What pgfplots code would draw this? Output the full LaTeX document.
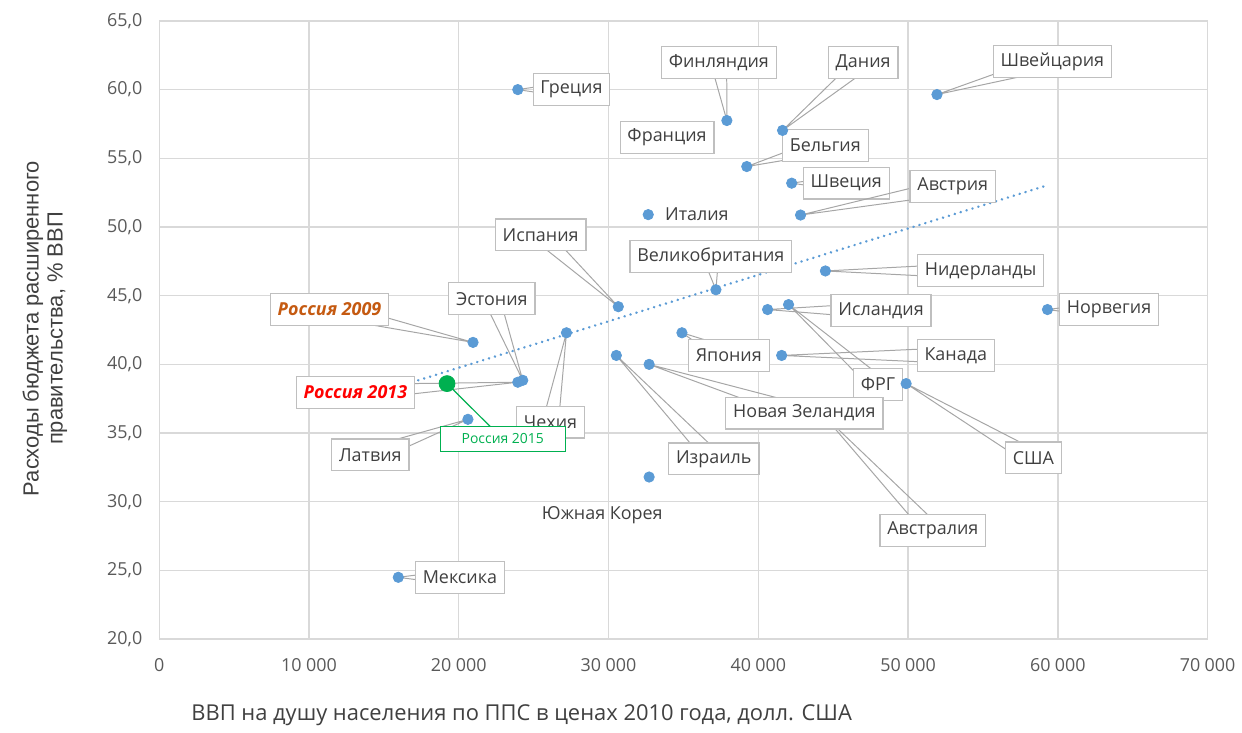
\documentclass[border=0pt]{standalone}
\usepackage{pgfplots}
\pgfplotsset{compat=1.18}
\usetikzlibrary{calc}
\usepackage{fontspec}
\setmainfont{Open Sans}
\newfontfamily\ylabfont{Liberation Sans}
\definecolor{ptc}{HTML}{5B9BD5}
\definecolor{gridc}{HTML}{D9D9D9}
\definecolor{boxc}{HTML}{BFBFBF}
\definecolor{txtc}{HTML}{404040}
\definecolor{tickc}{HTML}{595959}
\definecolor{ldc}{HTML}{A6A6A6}
\definecolor{rus09}{HTML}{C55A11}
\definecolor{rus13}{HTML}{FF0000}
\definecolor{rus15}{HTML}{00B050}

\pgfplotstableread{
x y
23940 60.0
37900 57.75
41620 57.03
51930 59.64
39230 54.4
42230 53.19
32650 50.9
42820 50.87
37170 45.43
44480 46.8
59310 43.99
30650 44.2
40620 43.99
42020 44.35
20950 41.6
24270 38.84
23940 38.7
27190 42.3
34900 42.3
30520 40.65
32710 40.0
41560 40.65
49870 38.6
20610 36.0
44350 36.3
32710 31.8
15960 24.5
}\countries

\pgfplotstableread{
x y
19215 38.6
}\russia

\tikzset{
  lb/.style={draw=boxc, fill=white, text=txtc, font=\fontsize{9}{11}\selectfont,
    inner xsep=3.7pt, inner ysep=0pt, minimum height=16pt, line width=0.6pt},
  ld/.style={draw=ldc, line width=0.5pt, line join=round},
}
% \lab[node style]{name}{label pos}{text}{point}
\newcommand{\lab}[5][]{%
  \draw[ld] ($(axis cs:#3)!4pt!90:(axis cs:#5)$) -- (axis cs:#5)
     -- ($(axis cs:#3)!4pt!-90:(axis cs:#5)$);
  \node[lb,#1] (#2) at (axis cs:#3) {#4};}

\begin{document}
\begin{tikzpicture}
\path (-80pt,-47pt) rectangle (541pt,321pt);
\begin{axis}[
  at={(0pt,0pt)}, anchor=south west,
  scale only axis, width=526.5pt, height=310.5pt,
  xmin=0, xmax=70000, ymin=20, ymax=65,
  xtick={0,10000,...,70000}, ytick={20,25,...,65},
  grid=major,
  major grid style={draw=gridc, line width=0.7pt},
  axis line style={draw=gridc, line width=0.7pt},
  tick style={draw=none},
  clip=false,
  scaled x ticks=false,
  ticklabel style={font=\fontsize{9}{11}\selectfont, text=tickc},
  /pgf/number format/assume math mode=true,
  xticklabel style={yshift=-6pt, /pgf/number format/1000 sep={\kern2.2pt}, /pgf/number format/int detect},
  yticklabel style={xshift=-5pt, /pgf/number format/fixed, /pgf/number format/fixed zerofill, /pgf/number format/precision=1, /pgf/number format/use comma},
]
\addplot[draw=ptc, line width=1.3pt, dash pattern=on 0.1pt off 3pt, line cap=round]
  coordinates {(17290,38.84) (59318,53.04)};
\addplot[only marks, mark=*, mark size=2.6pt, mark options={draw=ptc, fill=ptc}]
  table {\countries};

\lab{gr}{27523,60.0}{Греция}{23940,60.0}
\lab{fi}{37362,61.96}{Финляндия}{37900,57.75}
\lab{dk}{47001,61.96}{Дания}{41620,57.03}
\lab{ch}{59632,62.03}{Швейцария}{51930,59.64}
\node[lb] at (axis cs:33905,56.52) {Франция};
\lab{be}{44475,55.94}{Бельгия}{39230,54.4}
\lab{se}{45871,53.19}{Швеция}{42230,53.19}
\lab{at}{52985,52.97}{Австрия}{42820,50.87}
\node[text=txtc, font=\fontsize{9}{11}\selectfont] at (axis cs:35899,50.94) {Италия};
\lab{es}{25462,49.42}{Испания}{30650,44.2}
\lab{uk}{36830,47.83}{Великобритания}{37170,45.43}
\lab{nl}{54846,46.81}{Нидерланды}{44480,46.8}
\lab{no}{63422,43.99}{Норвегия}{59310,43.99}
\lab{is}{48198,43.91}{Исландия}{40620,43.99}
\lab{de}{47999,38.55}{ФРГ}{42020,44.35}
\lab{jp}{38027,40.65}{Япония}{34900,42.3}
\lab{ca}{53184,40.65}{Канада}{41560,40.65}
\lab{au}{51655,27.9}{Австралия}{44350,36.3}
\lab{nz}{43079,36.45}{Новая Зеландия}{32710,40.0}
\lab{il}{37029,33.12}{Израиль}{30520,40.65}
\lab{cz}{26127,35.8}{Чехия}{27190,42.3}
\lab{us}{58369,33.19}{США}{49870,38.6}
\lab{lv}{14094,33.41}{Латвия}{20610,36.0}
\lab{mx}{20077,24.49}{Мексика}{15960,24.5}
\node[text=txtc, font=\fontsize{9}{11}\selectfont] at (axis cs:29584,29.06) {Южная Корея};
\lab{ee}{22204,44.78}{Эстония}{24270,38.84}
\lab[text=rus09, font=\fontsize{9}{11}\selectfont\bfseries\itshape]{r09}{11368,43.99}{Россия 2009}{20950,41.6}
\lab[text=rus13, font=\fontsize{9}{11}\selectfont\bfseries\itshape]{r13}{13097,37.97}{Россия 2013}{23940,38.7}

\addplot[only marks, mark=*, mark size=4pt, mark options={draw=rus15, fill=rus15}]
  table {\russia};
\draw[draw=rus15, line width=0.6pt] (axis cs:19215,38.6) -- (axis cs:22936,34.57);
\node[draw=rus15, fill=white, text=rus15, font=\fontsize{7}{9}\selectfont,
  minimum width=63pt, minimum height=13pt, inner sep=0pt, line width=0.5pt]
  at (axis cs:22936,34.57) {Россия 2015};
\end{axis}
% the label of New Zealand covers the point of Australia, as in the original
\node[lb] at (nz.center) {Новая Зеландия};
\node[text=txtc, font=\fontsize{11}{13}\selectfont] at (182pt,-38pt)
  {ВВП на душу населения по ППС в ценах 2010 года, долл. США};
\node[text=txtc, font=\ylabfont\fontsize{11}{12}\selectfont, rotate=90, align=center]
  at (-57.5pt,156pt) {Расходы бюджета расширенного\\правительства, \% ВВП};
\end{tikzpicture}
\end{document}
